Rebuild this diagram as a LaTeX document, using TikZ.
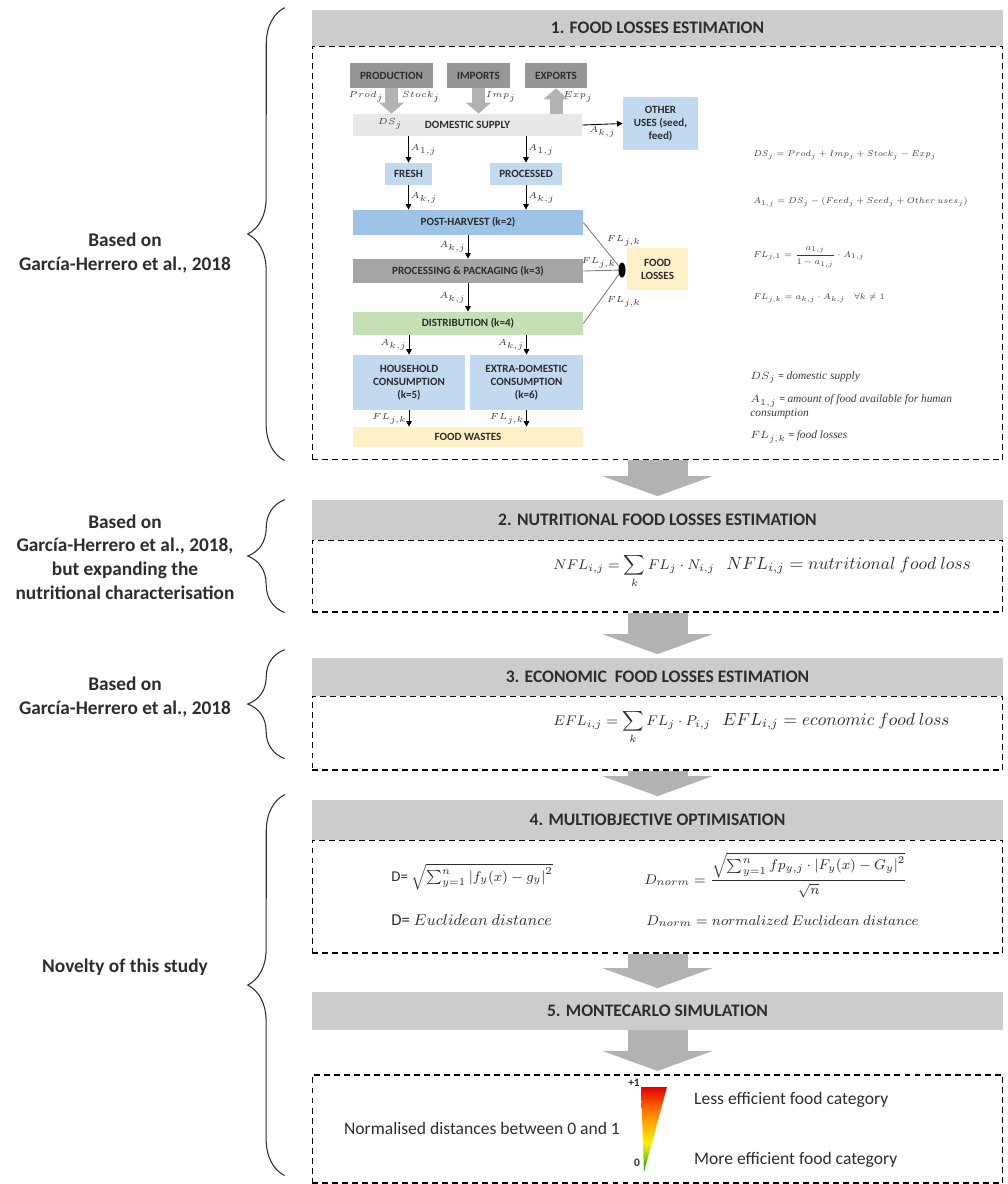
\documentclass[tikz,border=0pt]{standalone}
\usepackage{fontspec}
\setmainfont{Carlito}
\newfontfamily\deffont{Liberation Serif}
\usepackage{amsmath}
\usetikzlibrary{arrows.meta,positioning,calc,decorations.pathreplacing}
\definecolor{HdrGray}{RGB}{204,204,204}
\definecolor{DarkBox}{RGB}{150,150,150}
\definecolor{SupplyGray}{RGB}{232,232,232}
\definecolor{PackGray}{RGB}{166,166,166}
\definecolor{LightBlue}{RGB}{194,218,240}
\definecolor{MidBlue}{RGB}{157,195,230}
\definecolor{LightGreen}{RGB}{197,224,180}
\definecolor{LightYellow}{RGB}{255,240,200}
\definecolor{ArrGray}{RGB}{178,178,178}
\definecolor{TxtDark}{RGB}{45,45,45}
\definecolor{EqGray}{RGB}{60,60,60}
\pgfdeclareverticalshading{effshade}{100bp}{color(0bp)=(green!65!black); color(25bp)=(green!65!black); color(42bp)=(yellow!90!orange); color(60bp)=(orange); color(75bp)=(red!90!black); color(100bp)=(red!90!black)}

\begin{document}
\begin{tikzpicture}[x=0.02cm,y=-0.02cm,
  hdr/.style={fill=HdrGray,minimum width=13.82cm,inner sep=0pt,
              font=\fontsize{10}{12}\selectfont\bfseries,text=TxtDark},
  stage/.style={draw=black,line width=0.6pt,dash pattern=on 3.4pt off 2.3pt,
                minimum width=13.82cm,inner sep=0pt},
  fbox/.style={inner sep=1pt,align=center,text=TxtDark,
               font=\fontsize{6.3}{7.3}\selectfont\bfseries},
  lbl/.style={align=center,text=TxtDark,font=\fontsize{11}{13.5}\selectfont\bfseries},
  eq/.style={anchor=west,inner sep=0pt,text=EqGray,font=\fontsize{6.5}{8}\selectfont,
             scale=0.8,transform shape},
  defn/.style={anchor=west,inner sep=0pt,text=EqGray,font=\fontsize{6.5}{8}\selectfont},
  bigeq/.style={anchor=base west,inner sep=0pt,text=TxtDark,font=\fontsize{8.5}{11}\selectfont},
  bigdef/.style={anchor=base west,inner sep=0pt,text=TxtDark,font=\fontsize{10}{12}\selectfont},
  sml/.style={inner sep=1pt,text=EqGray,font=\fontsize{5.5}{6.5}\selectfont},
  arr/.style={-{Triangle[length=3.2pt,width=3.2pt]},line width=0.5pt},
  flow/.style={-{Triangle[length=0.22cm,width=0.5cm,line width=0pt]},line width=0.26cm,ArrGray},
  stagearr/.style={-{Triangle[length=0.4cm,width=2.2cm,line width=0pt]},line width=1.2cm,
                   ArrGray,shorten >=2pt},
  lossline/.style={line width=0.5pt,draw=gray},
  brc/.style={decorate,decoration={brace,amplitude=21pt},line width=0.6pt,TxtDark},
  botxt/.style={text=TxtDark,font=\fontsize{10}{12}\selectfont},
]
\useasboundingbox (0,0) rectangle (1008,1184);

% 1. food losses
\node[stage,minimum height=8.28cm] (b1) at (657.5,253) {};
\node[hdr,minimum height=0.72cm] (h1) at (657.5,28) {1. FOOD LOSSES ESTIMATION};

\node[fbox,fill=DarkBox,minimum width=1.66cm,minimum height=0.5cm] (prod) at (391.5,75.5) {PRODUCTION};
\node[fbox,fill=DarkBox,minimum width=1.26cm,minimum height=0.5cm] (imp) at (478.5,75.5) {IMPORTS};
\node[fbox,fill=DarkBox,minimum width=1.24cm,minimum height=0.5cm] (expo) at (556,75.5) {EXPORTS};
\node[fbox,fill=SupplyGray,minimum width=4.58cm,minimum height=0.44cm] (ds) at (467.5,125) {DOMESTIC SUPPLY};
\node[fbox,fill=LightBlue,minimum width=1.5cm,minimum height=1.06cm] (other) at (660.5,123.5) {OTHER\\USES (seed,\\feed)};
\node[fbox,fill=LightBlue,minimum width=0.94cm,minimum height=0.44cm] (fresh) at (408.5,174) {FRESH};
\node[fbox,fill=LightBlue,minimum width=1.44cm,minimum height=0.44cm] (proc) at (526,174) {PROCESSED};
\node[fbox,fill=MidBlue,minimum width=4.6cm,minimum height=0.5cm] (post) at (468,222.5) {POST-HARVEST (k=2)};
\node[fbox,fill=PackGray,minimum width=4.6cm,minimum height=0.48cm] (pack) at (468,271) {PROCESSING \& PACKAGING (k=3)};
\node[fbox,fill=LightGreen,minimum width=4.6cm,minimum height=0.46cm] (dist) at (468,323.5) {DISTRIBUTION (k=4)};
\node[fbox,fill=LightBlue,minimum width=2.24cm,minimum height=1.1cm] (house) at (409,382.5) {HOUSEHOLD\\CONSUMPTION\\(k=5)};
\node[fbox,fill=LightBlue,minimum width=2.26cm,minimum height=1.1cm] (extra) at (526.5,382.5) {EXTRA-DOMESTIC\\CONSUMPTION\\(k=6)};
\node[fbox,fill=LightYellow,minimum width=4.6cm,minimum height=0.4cm] (waste) at (468,437) {FOOD WASTES};
\node[fbox,fill=LightYellow,minimum width=1.22cm,minimum height=0.84cm] (losses) at (657.5,269) {FOOD\\LOSSES};

\node[sml] (dsj) at (390,124) {$DS_j$};
\node[sml] (prodj) at (366,97) {$Prod_j$};
\node[sml] (stockj) at (421,97) {$Stock_j$};
\node[sml] (impj) at (501,97) {$Imp_j$};
\node[sml] (expj) at (578,97) {$Exp_j$};

\draw[flow] (prod.south) -- (prod.south |- ds.north);
\draw[flow] (imp.south) -- (imp.south |- ds.north);
\draw[flow] (expo.south |- ds.north) -- (expo.south);

\draw[arr] (ds.east) -- (other.west) node[sml,midway,below] {$A_{k,j}$};
\draw[arr] (fresh.north |- ds.south) -- (fresh.north) node[sml,midway,right] {$A_{1,j}$};
\draw[arr] (proc.north |- ds.south) -- (proc.north) node[sml,midway,right] {$A_{1,j}$};
\draw[arr] (fresh.south) -- (fresh.south |- post.north) node[sml,midway,right] {$A_{k,j}$};
\draw[arr] (proc.south) -- (proc.south |- post.north) node[sml,midway,right] {$A_{k,j}$};
\draw[arr] (post.south) -- (pack.north) node[sml,midway,left] {$A_{k,j}$};
\draw[arr] (pack.south) -- (dist.north) node[sml,midway,left] {$A_{k,j}$};
\draw[arr] (house.north |- dist.south) -- (house.north) node[sml,midway,left] {$A_{k,j}$};
\draw[arr] (extra.north |- dist.south) -- (extra.north) node[sml,midway,left] {$A_{k,j}$};
\draw[arr] (house.south) -- (house.south |- waste.north) node[sml,midway,left] {$FL_{j,k}$};
\draw[arr] (extra.south) -- (extra.south |- waste.north) node[sml,midway,left] {$FL_{j,k}$};

\coordinate (junc) at (622,270);
\draw[lossline] (post.east) -- (junc) node[sml,pos=0.55,above right] {$FL_{j,k}$};
\draw[lossline] (pack.east) -- (junc) node[sml,pos=0.4,above] {$FL_{j,k}$};
\draw[lossline] (dist.east) -- (junc) node[sml,pos=0.55,below right] {$FL_{j,k}$};
\fill (junc) ellipse (0.07cm and 0.15cm);

\node[eq] (eq1) at (753,155) {$DS_j = Prod_j + Imp_j + Stock_j - Exp_j$};
\node[eq] (eq2) at (753,202) {$A_{1,j} = DS_j - (Feed_j + Seed_j + Other\ uses_j)$};
\node[eq] (eq3) at (753,257) {$FL_{j,1} = \dfrac{a_{1,j}}{1-a_{1,j}}\cdot A_{1,j}$};
\node[eq] (eq4) at (753,298) {$FL_{j,k} = a_{k,j}\cdot A_{k,j}\quad \forall k \neq 1$};
\node[defn] (def1) at (750,377) {$DS_j$ = {\deffont\itshape domestic supply}};
\node[defn,align=left] (def2) at (750,407) {$A_{1,j}$ = {\deffont\itshape amount of food available for human}\\{\deffont\itshape consumption}};
\node[defn] (def3) at (750,437) {$FL_{j,k}$ = {\deffont\itshape food losses}};

% 2. nutritional
\node[stage,minimum height=1.44cm] (b2) at (657.5,576) {};
\node[hdr,minimum height=0.8cm] (h2) at (657.5,520) {2. NUTRITIONAL FOOD LOSSES ESTIMATION};
\node[bigeq] (nfl) at (553,569) {$NFL_{i,j} = \displaystyle\sum_k FL_j\cdot N_{i,j}$};
\node[bigdef] (nfldef) at (726,569) {$NFL_{i,j} = nutritional\ food\ loss$};

% 3. economic
\node[stage,minimum height=1.48cm] (b3) at (657.5,733) {};
\node[hdr,minimum height=0.76cm] (h3) at (657.5,677) {3. ECONOMIC\ \ FOOD LOSSES ESTIMATION};
\node[bigeq] (efl) at (553,725) {$EFL_{i,j} = \displaystyle\sum_k FL_j\cdot P_{i,j}$};
\node[bigdef] (efldef) at (722,725) {$EFL_{i,j} = economic\ food\ loss$};

% 4. multiobjective
\node[stage,minimum height=2.26cm] (b4) at (657.5,896.5) {};
\node[hdr,minimum height=0.8cm] (h4) at (657.5,820) {4. MULTIOBJECTIVE OPTIMISATION};
\node[bigeq] (dd) at (391,881) {D= $\sqrt{\sum_{y=1}^{n}\left|f_y(x)-g_y\right|^2}$};
\node[bigdef,font=\fontsize{9.5}{12}\selectfont] (dddef) at (391,925) {D= $Euclidean\ distance$};
\node[bigeq] (dn) at (644,884) {$D_{norm} = \dfrac{\sqrt{\sum_{y=1}^{n} fp_{y,j}\cdot\left|F_y(x)-G_y\right|^2}}{\sqrt{n}}$};
\node[bigeq] (dndef) at (646,925) {$D_{norm} = normalized\ Euclidean\ distance$};

% 5. montecarlo
\node[hdr,minimum height=0.76cm] (h5) at (657.5,1011) {5. MONTECARLO SIMULATION};
\node[stage,minimum height=2.16cm] (b6) at (657.5,1129) {};
\node[botxt] (norm) at (482,1128) {Normalised distances between 0 and 1};
\shade[shading=effshade] (641,1087) -- (667,1087) -- (644,1172) -- cycle;
\node[text=TxtDark,font=\fontsize{6.5}{8}\selectfont\bfseries] (plus) at (634,1083) {+1};
\node[text=TxtDark,font=\fontsize{6.5}{8}\selectfont\bfseries] (zero) at (637,1163) {0};
\node[botxt,anchor=west] (less) at (688,1100) {Less efficient food category};
\node[botxt,anchor=west] (more) at (688,1160) {More efficient food category};

% stage arrows
\draw[stagearr] (b1.south) -- (h2.north);
\draw[stagearr] (b2.south) -- (h3.north);
\draw[stagearr] (b3.south) -- (h4.north);
\draw[stagearr] (b4.south) -- (h5.north);
\draw[stagearr] (h5.south) -- (b6.north);

% braces and sources
\draw[brc] ($(b1.south west)+(-27,0)$) -- ($(h1.north west)+(-27,-2)$);
\draw[brc] ($(b2.south west)+(-27,0)$) -- ($(h2.north west)+(-27,0)$);
\draw[brc] ($(b3.south west)+(-27,-12)$) -- ($(h3.north west)+(-27,-8)$);
\draw[brc] ($(b6.south west)+(-27,-8)$) -- ($(h4.north west)+(-27,-5)$);
\node[lbl] (src1) at (125,253) {Based on\\García-Herrero et al., 2018};
\node[lbl] (src2) at (125,557) {Based on\\García-Herrero et al., 2018,\\but expanding the\\nutritional characterisation};
\node[lbl] (src3) at (125,697) {Based on\\García-Herrero et al., 2018};
\node[lbl] (src4) at (125,967) {Novelty of this study};
\end{tikzpicture}
\end{document}
